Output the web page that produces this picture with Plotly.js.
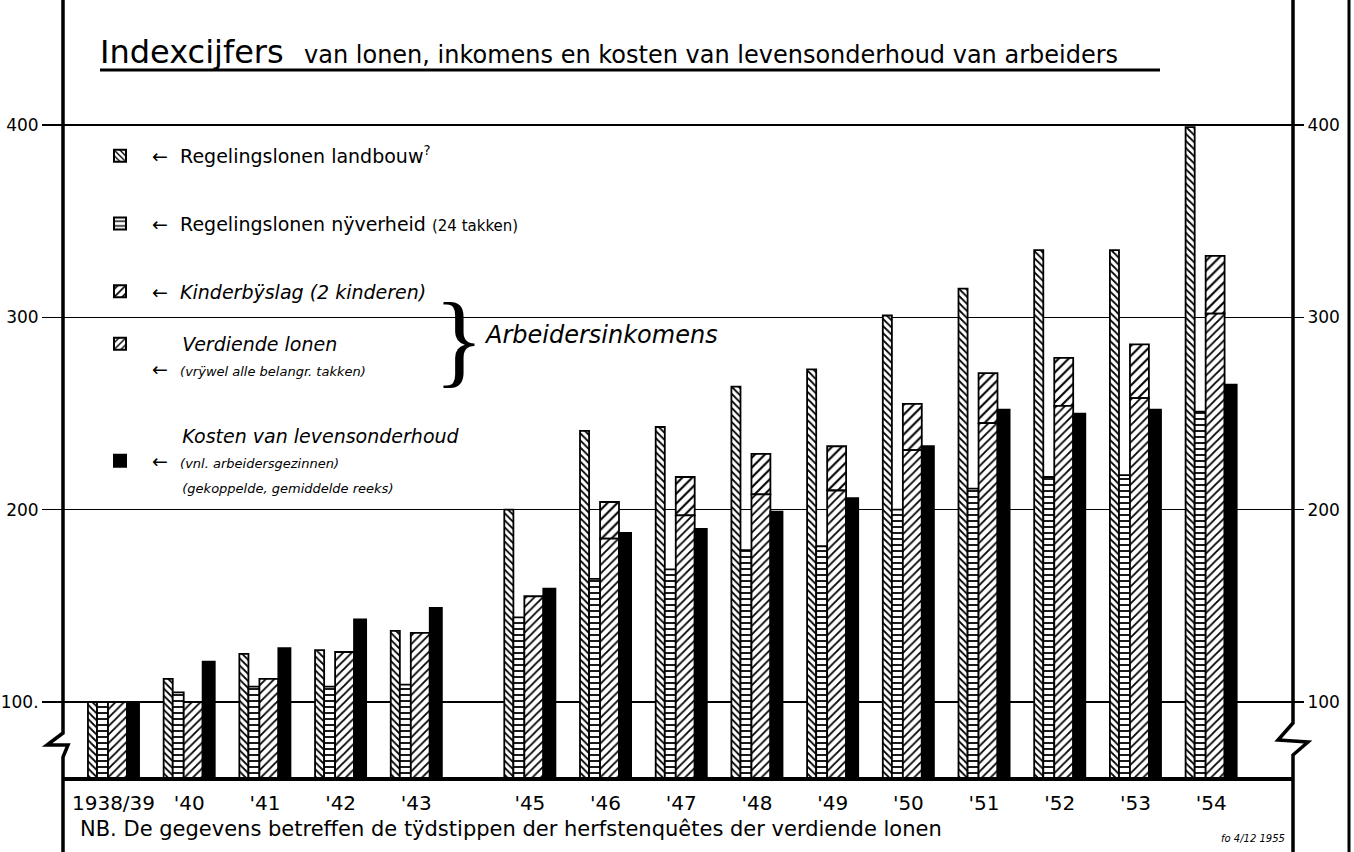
<!DOCTYPE html>
<html>
<head>
<meta charset="utf-8">
<script src="https://cdn.plot.ly/plotly-3.0.1.min.js"></script>
<style>
  html, body { margin: 0; padding: 0; background: #ffffff; }
  #chart { width: 1354px; height: 852px; }
</style>
</head>
<body>
<div id="chart"></div>
<script>
// ---- data ----
const labels = ["1938/39", "'40", "'41", "'42", "'43", "'45", "'46", "'47", "'48", "'49", "'50", "'51", "'52", "'53", "'54"];
const landbouw   = [100, 112, 125, 127, 137, 200, 241, 243, 264, 273, 301, 315, 335, 335, 399];
const nijverheid = [100, 105, 108, 108, 109, 144, 164, 169, 179, 181, 200, 211, 217, 218, 251];
const verdiende  = [100, 100, 112, 126, 136, 155, 185, 197, 208, 210, 231, 245, 254, 258, 302];
const kinderbijslag = [null, null, null, null, null, null, 19, 20, 21, 23, 24, 26, 25, 28, 30];
const kosten     = [100, 121, 128, 143, 149, 159, 188, 190, 199, 206, 233, 252, 250, 252, 265];
const yTicks = [100, 200, 300, 400];
const yTickTextLeft = ["100.", "200", "300", "400"];

// ---- layout helpers ----
const W = 1354, H = 852;
const M = {l: 63, r: 61, t: 8, b: 75};
const PW = W - M.l - M.r, PH = H - M.t - M.b;
const px = v => (v - M.l) / PW;           // pixel x -> paper x
const py = v => (H - M.b - v) / PH;       // pixel y -> paper y

// the missing year ('44) leaves a half-step gap after '43
const gapIndex = labels.indexOf("'43");
const pos = labels.map((l, i) => i + (i > gapIndex ? 0.5 : 0));

const FONT = "DejaVu Sans, Roboto, sans-serif";
const outline = {color: "#000", width: 1.8};

function hatch(shape, size, solidity) {
  return {shape: shape, fgcolor: "#000", bgcolor: "#fff", size: size, solidity: solidity, fillmode: "replace"};
}

const traces = [
  {
    type: "bar", x: pos, y: landbouw, width: 0.12, offset: -0.3375,
    name: "  ←  Regelingslonen landbouw<sup>?</sup>", legendgroup: "g1",
    marker: {color: "#fff", line: outline, pattern: hatch("\\", 5, 0.35)},
    hoverinfo: "y"
  },
  {
    type: "bar", x: pos, y: nijverheid, width: 0.145, offset: -0.2175,
    name: "  ←  Regelingslonen nÿverheid <span style='font-size:15px'>(24 takken)</span>", legendgroup: "g2",
    marker: {color: "#fff", line: outline, pattern: hatch("-", 6, 0.3)},
    hoverinfo: "y"
  },
  {
    type: "bar", x: pos, y: kinderbijslag, base: verdiende, width: 0.25, offset: -0.0725,
    name: "  ←  <i>Kinderbÿslag (2 kinderen)</i>", legendgroup: "g3",
    marker: {color: "#fff", line: outline, pattern: hatch("/", 7, 0.3)},
    hoverinfo: "y"
  },
  {
    type: "bar", x: pos, y: verdiende, width: 0.25, offset: -0.0725,
    name: " <br>       <i>Verdiende lonen</i><br>  ←  <span style='font-size:13px'><i>(vrÿwel alle belangr. takken)</i></span>", legendgroup: "g3",
    marker: {color: "#fff", line: outline, pattern: hatch("/", 6, 0.3)},
    hoverinfo: "y"
  },
  {
    type: "bar", x: pos, y: kosten, width: 0.16, offset: 0.1775,
    name: "       <i>Kosten van levensonderhoud</i><br>  ←  <span style='font-size:13px'><i>(vnl. arbeidersgezinnen)</i></span><br>       <span style='font-size:13px'><i>(gekoppelde, gemiddelde reeks)</i></span>", legendgroup: "g5",
    marker: {color: "#000", line: outline},
    hoverinfo: "y"
  },
  {
    type: "scatter", mode: "none", x: pos, y: landbouw, yaxis: "y2",
    showlegend: false, hoverinfo: "skip"
  }
];

const shapes = [
  // white panels behind legend / bracket text (above grid, below bars)
  {type: "rect", xref: "paper", yref: "paper", x0: px(95), x1: px(548), y0: py(112), y1: py(498),
   fillcolor: "#fff", line: {width: 0}, layer: "below"},
  {type: "rect", xref: "paper", yref: "paper", x0: px(420), x1: px(740), y0: py(285), y1: py(392),
   fillcolor: "#fff", line: {width: 0}, layer: "below"},
  // title underline
  {type: "line", xref: "paper", yref: "paper", x0: px(100), x1: px(1160), y0: py(70), y1: py(70),
   line: {color: "#000", width: 3}},
  // left axis with break
  {type: "path", xref: "paper", yref: "paper",
   path: `M${px(63)},${py(0)} L${px(63)},${py(733)} L${px(47)},${py(745)} L${px(68)},${py(745)} L${px(63)},${py(757)} L${px(63)},${py(852)}`,
   line: {color: "#000", width: 3.5}},
  // right axis with break
  {type: "path", xref: "paper", yref: "paper",
   path: `M${px(1293)},${py(0)} L${px(1293)},${py(723)} L${px(1278)},${py(740)} L${px(1308)},${py(742)} L${px(1293)},${py(755)} L${px(1293)},${py(852)}`,
   line: {color: "#000", width: 3.5}},
  // outer right border
  {type: "line", xref: "paper", yref: "paper", x0: px(1349), x1: px(1349), y0: py(0), y1: py(852),
   line: {color: "#000", width: 3}}
];

const annotations = [
  {xref: "paper", yref: "paper", x: px(432), y: py(338), xanchor: "left", yanchor: "middle",
   text: "}", showarrow: false, font: {family: "Liberation Serif, DejaVu Serif, serif", size: 104, color: "#000"}},
  {xref: "paper", yref: "paper", x: px(482), y: py(335), xanchor: "left", yanchor: "middle",
   text: "<i>Arbeidersinkomens</i>", showarrow: false, font: {family: FONT, size: 24, color: "#000"}},
  {xref: "paper", yref: "paper", x: px(78), y: py(829), xanchor: "left", yanchor: "middle",
   text: "NB. De gegevens betreffen de tÿdstippen der herfstenquêtes der verdiende lonen",
   showarrow: false, font: {family: FONT, size: 21, color: "#000"}},
  {xref: "paper", yref: "paper", x: px(1287), y: py(838), xanchor: "right", yanchor: "middle",
   text: "<i>fo 4/12 1955</i>", showarrow: false, font: {family: FONT, size: 10, color: "#000"}}
];

const layout = {
  width: W, height: H,
  margin: M,
  paper_bgcolor: "#fff", plot_bgcolor: "#fff",
  font: {family: FONT, color: "#000"},
  title: {
    text: "Indexcijfers  <span style='font-size:24px'>van lonen, inkomens en kosten van levensonderhoud van arbeiders</span>",
    font: {family: FONT, size: 32, color: "#000"},
    xref: "container", yref: "container",
    x: 100 / W, xanchor: "left", y: 1 - 52 / H, yanchor: "middle"
  },
  barmode: "overlay",
  bargap: 0,
  showlegend: true,
  legend: {
    x: px(100), y: py(137), xanchor: "left", yanchor: "top",
    bgcolor: "rgba(255,255,255,0)", borderwidth: 0,
    font: {family: FONT, size: 19, color: "#000"},
    traceorder: "grouped", tracegroupgap: 40, itemsizing: "constant", valign: "middle"
  },
  xaxis: {
    type: "linear",
    range: [(M.l - 113.5) / 75.7, (W - M.r - 113.5) / 75.7],
    tickvals: pos, ticktext: labels,
    ticks: "", showgrid: false, zeroline: false,
    showline: true, linecolor: "#000", linewidth: 4,
    tickfont: {family: FONT, size: 20, color: "#000"},
    ticklabelstandoff: 5,
    fixedrange: true
  },
  yaxis: {
    range: [61, 460.9],
    tickvals: yTicks, ticktext: yTickTextLeft,
    ticks: "outside", ticklen: 20, tickwidth: 1.5, tickcolor: "#000",
    showgrid: true, gridcolor: "#000", gridwidth: 1.5,
    zeroline: false, showline: false,
    tickfont: {family: FONT, size: 17, color: "#000"},
    fixedrange: true
  },
  yaxis2: {
    overlaying: "y", side: "right",
    range: [61, 460.9],
    tickvals: yTicks, ticktext: yTicks.map(String),
    ticks: "outside", ticklen: 10, tickwidth: 1.5, tickcolor: "#000",
    showgrid: false, zeroline: false, showline: false,
    tickfont: {family: FONT, size: 17, color: "#000"},
    fixedrange: true
  },
  shapes: shapes,
  annotations: annotations
};

Plotly.newPlot("chart", traces, layout, {displayModeBar: false, staticPlot: true});
</script>
</body>
</html>
